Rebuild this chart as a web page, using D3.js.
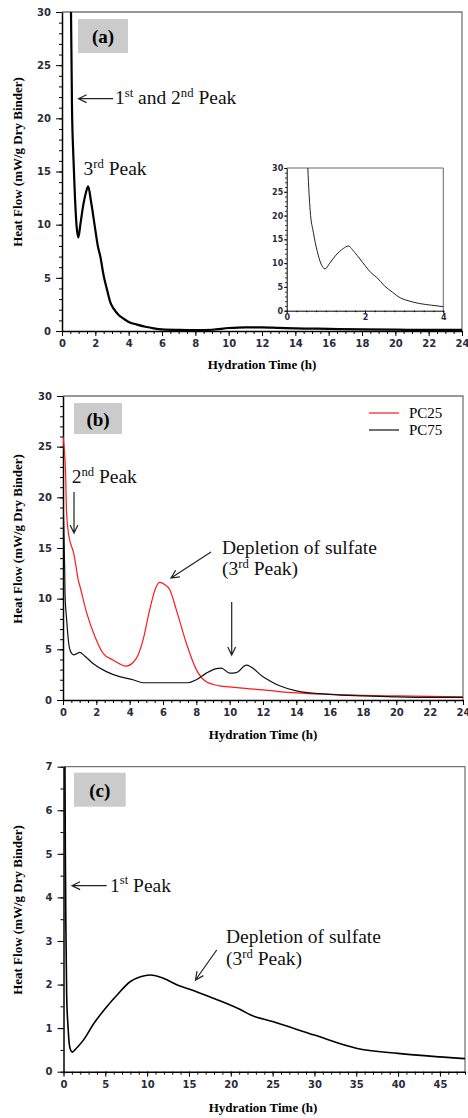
<!DOCTYPE html>
<html><head><meta charset="utf-8">
<script src="https://cdn.jsdelivr.net/npm/d3@7"></script>
<style>body{margin:0;background:#fff}svg{display:block}</style>
</head><body>
<svg id="chart" width="468" height="1118"></svg>
<script>
// ---------- DATA ----------
// Panel (a): single curve (also shown in inset 0-4 h)
const aTime = [0.5, 0.54, 0.6, 0.68, 0.78, 0.88, 0.98, 1.1, 1.26, 1.45, 1.57, 1.74, 2.0, 2.15, 2.3, 2.5, 2.7, 2.9, 3.1, 3.4, 3.7, 4.0, 4.5, 5, 5.5, 6, 7, 8, 9, 10, 11, 12, 13, 14, 16, 18, 20, 22, 24];
const aFlow = [40, 30, 21, 16.5, 12.5, 9.8, 8.8, 10, 11.7, 13.1, 13.6, 12.2, 9.5, 8.0, 7.0, 5.2, 3.9, 2.7, 2.1, 1.5, 1.15, 0.85, 0.6, 0.4, 0.25, 0.15, 0.1, 0.08, 0.12, 0.28, 0.35, 0.35, 0.3, 0.25, 0.2, 0.15, 0.12, 0.1, 0.1];
// Panel (b): two series
const seriesNames = ["PC25", "PC75"];
const pc25Time = [0, 0.16, 0.2, 0.3, 0.4, 0.64, 0.78, 0.92, 1.02, 1.42, 1.92, 2.41, 3.0, 3.8, 4.4, 4.8, 5.2, 5.6, 5.8, 6.1, 6.4, 6.8, 7.4, 8.0, 8.6, 9.4, 10, 10.6, 12, 14, 16, 18, 20, 22, 24];
const pc25Flow = [26, 22.2, 19.1, 16.8, 15.8, 14.5, 13.2, 11.8, 11.2, 8.6, 6.25, 4.6, 3.95, 3.35, 4.1, 5.9, 8.9, 11.2, 11.6, 11.4, 10.9, 8.9, 5.6, 3.0, 1.8, 1.4, 1.3, 1.2, 1.0, 0.7, 0.55, 0.45, 0.4, 0.35, 0.3];
const pc75Time = [0, 0.05, 0.1, 0.12, 0.22, 0.36, 0.52, 0.66, 0.85, 1.0, 1.3, 1.8, 2.6, 3.4, 4.2, 4.8, 6, 7.5, 8, 8.6, 9.2, 9.5, 10, 10.4, 11, 12, 13, 14, 16, 18, 20, 22, 24];
const pc75Flow = [19.5, 17, 13, 10.5, 7.9, 5.4, 4.6, 4.45, 4.6, 4.7, 4.35, 3.6, 2.8, 2.3, 2.0, 1.7, 1.7, 1.7, 2.0, 2.65, 3.1, 3.15, 2.65, 2.7, 3.45, 2.3, 1.4, 0.9, 0.55, 0.4, 0.3, 0.25, 0.25];
// Panel (c): single curve
const cTime = [0.15, 0.22, 0.28, 0.38, 0.55, 0.7, 0.85, 1.05, 1.6, 2.4, 3.6, 5, 6.4, 8, 9.2, 10.4, 12, 13.6, 15.6, 18, 21.2, 22.4, 25, 30, 35, 40, 45, 48];
const cFlow = [8, 5, 3.4, 1.75, 1.0, 0.62, 0.5, 0.45, 0.55, 0.73, 1.1, 1.45, 1.76, 2.07, 2.18, 2.22, 2.14, 1.99, 1.86, 1.68, 1.42, 1.3, 1.15, 0.84, 0.54, 0.42, 0.34, 0.3];
// Ticks
const aXTicks = [0, 2, 4, 6, 8, 10, 12, 14, 16, 18, 20, 22, 24];
const aYTicks = [0, 5, 10, 15, 20, 25, 30];
const insetXTicks = [0, 2, 4];
const insetYTicks = [0, 5, 10, 15, 20, 25, 30];
const cXTicks = [0, 5, 10, 15, 20, 25, 30, 35, 40, 45];
const cYTicks = [0, 1, 2, 3, 4, 5, 6, 7];
const xTitle = "Hydration Time (h)";
const yTitle = "Heat Flow (mW/g Dry Binder)";

// ---------- DRAW ----------
const serif = "'Liberation Serif','Times New Roman',serif";
const tickFont = "'DejaVu Sans',Verdana,sans-serif";
const svg = d3.select("#chart");
const defs = svg.append("defs");
let clipId = 0;

function panel(cfg) {
  const x = d3.scaleLinear().domain(cfg.xDomain).range([cfg.L, cfg.R]);
  const y = d3.scaleLinear().domain(cfg.yDomain).range([cfg.B, cfg.T]);
  const g = svg.append("g");
  const id = "clip" + (clipId++);
  defs.append("clipPath").attr("id", id).append("rect")
    .attr("x", cfg.L).attr("y", cfg.T).attr("width", cfg.R - cfg.L).attr("height", cfg.B - cfg.T);
  g.append("path").attr("d", `M${cfg.L},${cfg.T}H${cfg.R}V${cfg.B}`)
    .attr("fill", "none").attr("stroke", cfg.frameColor || "#777").attr("stroke-width", cfg.frameW || 1.3);
  const fs = cfg.tickFS || 10;
  const xMinor = d3.axisBottom(x).tickValues(d3.range(cfg.xDomain[0], cfg.xDomain[1] + 1e-9, cfg.xMinor)).tickSize(cfg.minorLen || 3).tickFormat("");
  const yMinor = d3.axisLeft(y).tickValues(d3.range(cfg.yDomain[0], cfg.yDomain[1] + 1e-9, cfg.yMinor)).tickSize(cfg.minorLen || 3).tickFormat("");
  g.append("g").attr("transform", `translate(0,${cfg.B})`).call(xMinor).call(s => s.select(".domain").remove())
    .call(s => s.selectAll("text").remove())
    .selectAll("line").attr("stroke", "#000");
  g.append("g").attr("transform", `translate(${cfg.L},0)`).call(yMinor).call(s => s.select(".domain").remove())
    .call(s => s.selectAll("text").remove())
    .selectAll("line").attr("stroke", "#000");
  const fmt = d3.format("d");
  const xAx = d3.axisBottom(x).tickValues(cfg.xTicks).tickFormat(fmt).tickSize(cfg.majorLen || 5).tickPadding(cfg.xPad || 4).tickSizeOuter(0);
  const yAx = d3.axisLeft(y).tickValues(cfg.yTicks).tickFormat(fmt).tickSize(cfg.majorLen || 6).tickPadding(cfg.yPad || 5).tickSizeOuter(0);
  const gx = g.append("g").attr("transform", `translate(0,${cfg.B})`).call(xAx);
  const gy = g.append("g").attr("transform", `translate(${cfg.L},0)`).call(yAx);
  [gx, gy].forEach(a => {
    a.select(".domain").attr("stroke", "#000").attr("stroke-width", cfg.axisW || 1.5);
    a.selectAll(".tick line").attr("stroke", "#000");
    a.selectAll("text").attr("font-family", tickFont).attr("font-weight", "bold")
      .attr("font-size", fs).attr("fill", "#2a2a3a");
  });
  return {g, x, y, clip: `url(#${id})`};
}

function addLine(p, xs, ys, color, w) {
  const line = d3.line().x(d => p.x(d[0])).y(d => p.y(d[1])).curve(d3.curveMonotoneX);
  p.g.append("path").datum(xs.map((t, i) => [t, ys[i]]))
    .attr("d", line).attr("fill", "none").attr("stroke", color).attr("stroke-width", w)
    .attr("stroke-linejoin", "round").attr("clip-path", p.clip);
}

function arrow(x1, y1, x2, y2) {
  const a = Math.atan2(y2 - y1, x2 - x1), L = 9, s = 0.45;
  const p1 = [x2 - L * Math.cos(a - s), y2 - L * Math.sin(a - s)];
  const p2 = [x2 - L * Math.cos(a + s), y2 - L * Math.sin(a + s)];
  svg.append("path").attr("d", `M${x1},${y1}L${x2},${y2}M${p1}L${x2},${y2}L${p2}`)
    .attr("fill", "none").attr("stroke", "#222").attr("stroke-width", 1.2);
}

// parts: strings (normal) or {s: "..."} (superscript)
function richText(x, y, parts, size) {
  const t = svg.append("text").attr("x", x).attr("y", y).attr("font-family", serif)
    .attr("font-size", size).attr("fill", "#111");
  let raised = false;
  const shift = size * 0.38;
  parts.forEach(p => {
    const sup = typeof p === "object";
    const ts = t.append("tspan").text(sup ? p.s : p);
    if (sup) { ts.attr("font-size", size * 0.65); if (!raised) ts.attr("dy", -shift); raised = true; }
    else if (raised) { ts.attr("dy", shift); raised = false; }
  });
  return t;
}

function labelBox(x0, y0, x1, y1, txt, by) {
  svg.append("rect").attr("x", x0).attr("y", y0).attr("width", x1 - x0).attr("height", y1 - y0).attr("fill", "#cbcbcb");
  svg.append("text").attr("x", (x0 + x1) / 2).attr("y", by).attr("text-anchor", "middle")
    .attr("font-family", serif).attr("font-weight", "bold").attr("font-size", 19).text(txt);
}

function titles(cx, by, cy) {
  svg.append("text").attr("x", cx).attr("y", by).attr("text-anchor", "middle").attr("font-family", serif)
    .attr("font-weight", "bold").attr("font-size", 13).text(xTitle);
  svg.append("text").attr("transform", `translate(22,${cy}) rotate(-90)`).attr("text-anchor", "middle")
    .attr("font-family", serif).attr("font-weight", "bold").attr("font-size", 13).text(yTitle);
}

// ----- Panel (a) -----
const pa = panel({L: 62, R: 462, T: 12, B: 331, xDomain: [0, 24], yDomain: [0, 30],
  xTicks: aXTicks, yTicks: aYTicks, xMinor: 0.5, yMinor: 1});
addLine(pa, aTime, aFlow, "#000", 2.2);
const pi = panel({L: 286.7, R: 443.3, T: 168, B: 310.7, xDomain: [0, 4], yDomain: [0, 30],
  xTicks: insetXTicks, yTicks: insetYTicks, xMinor: 0.25, yMinor: 1, tickFS: 8, majorLen: 2.5, minorLen: 1.5,
  xPad: 1.5, yPad: 1, axisW: 1, frameW: 1, frameColor: "#666"});
addLine(pi, aTime, aFlow, "#222", 1);
labelBox(78, 19, 128, 53, "(a)", 43);
titles(262, 369, 162);
arrow(113, 98.7, 78.5, 98.7);
richText(115, 104, ["1", {s: "st"}, " and 2", {s: "nd"}, " Peak"], 19.5);
richText(83.5, 175, ["3", {s: "rd"}, " Peak"], 19.5);

// ----- Panel (b) -----
const pb = panel({L: 63, R: 463, T: 396, B: 700, xDomain: [0, 24], yDomain: [0, 30],
  xTicks: aXTicks, yTicks: aYTicks, xMinor: 0.5, yMinor: 1});
addLine(pb, pc25Time, pc25Flow, "#ff1a1a", 1.2);
addLine(pb, pc75Time, pc75Flow, "#111", 1.2);
const legColors = ["#ff1a1a", "#111"];
seriesNames.forEach((n, i) => {
  const ly = 413 + i * 17;
  svg.append("line").attr("x1", 369).attr("x2", 399).attr("y1", ly).attr("y2", ly)
    .attr("stroke", legColors[i]).attr("stroke-width", 1.2);
  svg.append("text").attr("x", 409).attr("y", ly + 5).attr("font-family", serif).attr("font-size", 15).text(n);
});
labelBox(74, 403, 122, 434, "(b)", 426);
titles(263, 739, 539);
richText(71.7, 483, ["2", {s: "nd"}, " Peak"], 19.5);
arrow(74, 492, 74, 533);
richText(222, 554, ["Depletion of sulfate"], 19.5);
richText(222, 575, ["(3", {s: "rd"}, " Peak)"], 19.5);
arrow(211, 552, 171, 578);
arrow(231.7, 602, 231.7, 655);

// ----- Panel (c) -----
const pc = panel({L: 63.5, R: 465, T: 766.7, B: 1071.7, xDomain: [0, 48], yDomain: [0, 7],
  xTicks: cXTicks, yTicks: cYTicks, xMinor: 1, yMinor: 0.5});
addLine(pc, cTime, cFlow, "#000", 1.6);
labelBox(74, 772.7, 125.7, 806.7, "(c)", 797);
titles(263, 1112, 910);
arrow(106.7, 885.7, 72, 885.7);
richText(110, 891.7, ["1", {s: "st"}, " Peak"], 19.5);
richText(226, 943, ["Depletion of sulfate"], 19.5);
richText(226, 965, ["(3", {s: "rd"}, " Peak)"], 19.5);
arrow(216.7, 950, 195.5, 980);
</script>
</body></html>
